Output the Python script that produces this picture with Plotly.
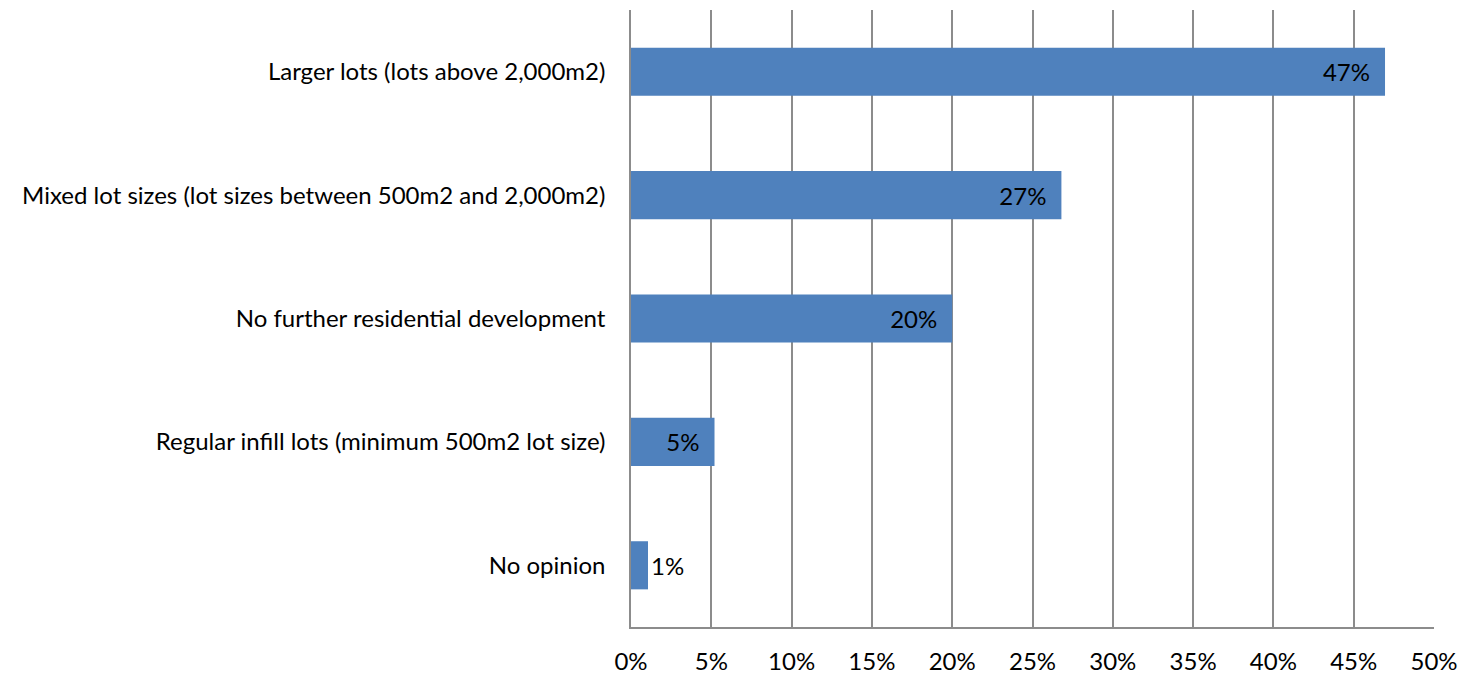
import plotly.graph_objects as go

categories = [
    "Larger lots (lots above 2,000m2)",
    "Mixed lot sizes (lot sizes between 500m2 and 2,000m2)",
    "No further residential development",
    "Regular infill lots (minimum 500m2 lot size)",
    "No opinion",
]
values = [0.4695, 0.268, 0.20, 0.052, 0.0106]
labels = ["47%", "27%", "20%", "5%", "1%"]
label_positions = ["inside", "inside", "inside", "inside", "outside"]
tick_vals = [i * 0.05 for i in range(11)]
tick_text = [f"{i * 5}%" for i in range(11)]

FONT = "Lato, Open Sans, sans-serif"
FS = 24

# pad inside labels away from the bar end, as in the reference
bar_text = [l + "\u2002" if p == "inside" else l for l, p in zip(labels, label_positions)]

fig = go.Figure(
    go.Bar(
        y=categories,
        x=values,
        orientation="h",
        marker=dict(color="#4F81BD", line=dict(width=0)),
        text=bar_text,
        textposition=label_positions,
        insidetextanchor="end",
        textfont=dict(color="black", size=FS, family=FONT),
        outsidetextfont=dict(color="black", size=FS, family=FONT),
        cliponaxis=False,
    )
)

# page body has an 8px margin: compensate so the plot lands where the reference has it
fig.update_layout(
    width=1467,
    height=667,
    margin=dict(l=623, r=41, t=2, b=48),
    plot_bgcolor="white",
    paper_bgcolor="white",
    bargap=0.61,
    showlegend=False,
    font=dict(family=FONT, size=FS, color="black"),
    uniformtext=dict(minsize=10, mode="show"),
)
fig.update_xaxes(
    range=[0, 0.5],
    tickvals=tick_vals,
    ticktext=tick_text,
    showgrid=True,
    gridcolor="#8C8C8C",
    gridwidth=1.5,
    showline=True,
    linecolor="#8C8C8C",
    linewidth=1.5,
    ticks="",
    zeroline=False,
    ticklabelstandoff=12,
    tickfont=dict(size=FS, family=FONT),
    automargin=False,
)
fig.update_yaxes(
    autorange="reversed",
    showgrid=False,
    showline=True,
    linecolor="#8C8C8C",
    linewidth=1.5,
    ticks="",
    ticklabelstandoff=19,
    tickfont=dict(size=FS, family=FONT),
    automargin=False,
)

fig.write_html("out.html")
